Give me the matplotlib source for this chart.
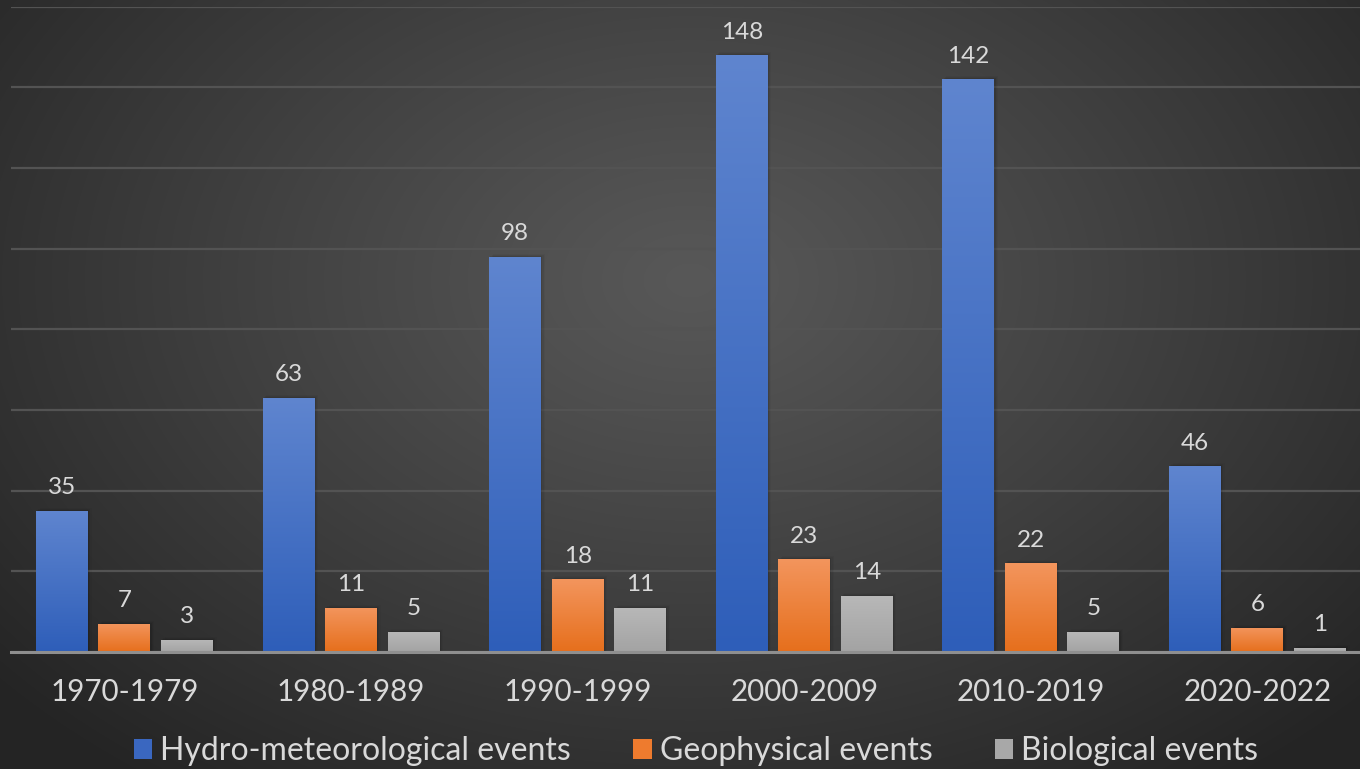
import numpy as np
import matplotlib
matplotlib.use("Agg")
import matplotlib.pyplot as plt
from matplotlib.colors import LinearSegmentedColormap
from matplotlib.patches import Patch

plt.rcParams['font.family'] = ['Lato', 'DejaVu Sans']

decades = ["1970-1979", "1980-1989", "1990-1999", "2000-2009", "2010-2019", "2020-2022"]
hydro = [35, 63, 98, 148, 142, 46]
geo = [7, 11, 18, 23, 22, 6]
bio = [3, 5, 11, 14, 5, 1]
series_names = ["Hydro-meteorological events", "Geophysical events", "Biological events"]

# top / bottom colours of each series' vertical gradient
grad_colors = [("#5f85cf", "#2e5eb9"), ("#f3955d", "#e66f1c"), ("#b8b8b8", "#a3a3a3")]
legend_colors = ["#3a67c0", "#ee7b2e", "#a8a8a8"]
text_color = "#d9d9d9"

W, H = 1360, 769
fig = plt.figure(figsize=(W / 100, H / 100), dpi=100)

# radial background
bg = fig.add_axes([0, 0, 1, 1], zorder=-10)
yy, xx = np.mgrid[0:H, 0:W]
r = np.sqrt(((xx - 690) / 900.0) ** 2 + ((yy - 280) / 620.0) ** 2)
r = np.clip(r, 0, 1)
val = 0.345 - 0.2 * r ** 1.1
bg.imshow(np.dstack([val, val, val]), extent=[0, W, H, 0], aspect='auto')
bg.set_xlim(0, W)
bg.set_ylim(H, 0)
bg.axis('off')

left_px, base_px, top_px = 11.2, 652, 6.6
group_px = 226.6
ax = fig.add_axes([left_px / W, 1 - base_px / H, (W - left_px) / W, (base_px - top_px) / H])
ax.patch.set_alpha(0)
ax.set_ylim(0, 160)
ax.set_xlim(-0.5, -0.5 + (W - left_px) / group_px)
ax.set_yticks(np.arange(0, 161, 20))
ax.yaxis.grid(True, color="#535353", linewidth=1.6)
ax.set_axisbelow(True)
for s in ["left", "right", "top"]:
    ax.spines[s].set_visible(False)
ax.spines["bottom"].set_color("#8f8f8f")
ax.spines["bottom"].set_linewidth(2.2)
ax.spines["bottom"].set_zorder(5)
ax.tick_params(axis='y', left=False, labelleft=False)
x = np.arange(len(decades))
ax.set_xticks(x)
ax.set_xticklabels(decades, fontsize=21.3, color=text_color)
ax.tick_params(axis='x', length=0, pad=19)

bw = 52 / group_px
step = 62.5 / group_px
for i, (vals, (ctop, cbot)) in enumerate(zip([hydro, geo, bio], grad_colors)):
    bars = ax.bar(x + (i - 1) * step, vals, width=bw, color=ctop, zorder=3, linewidth=0)
    cmap = LinearSegmentedColormap.from_list("g%d" % i, [cbot, ctop])
    for b, v in zip(bars, vals):
        x0, y0 = b.get_x(), b.get_y()
        x1, y1 = x0 + b.get_width(), y0 + b.get_height()
        # soft shadow behind the bar
        for k, a in enumerate([0.08, 0.05, 0.03]):
            dx = (2 + 2 * k) / group_px
            ax.add_patch(plt.Rectangle((x0 + dx * 0.6, y0), b.get_width(), b.get_height() + (1 + k) * 0.25,
                                       color="black", alpha=a, zorder=2, linewidth=0))
        grad = np.linspace(0, 1, 256).reshape(-1, 1)
        im = ax.imshow(grad, cmap=cmap, origin='lower', extent=[x0, x1, y0, y1],
                       aspect='auto', zorder=3.5)
        im.set_clip_path(b)
        ax.annotate(str(v), (b.get_x() + b.get_width() / 2, v), xytext=(0, 9),
                    textcoords='offset points', ha='center', va='bottom',
                    fontsize=17.5, color=text_color, zorder=6)

handles = [Patch(facecolor=c, edgecolor='none') for c in legend_colors]
leg = fig.legend(handles, series_names, loc='center', bbox_to_anchor=(0.5118, 1 - 751 / H),
                 ncol=3, frameon=False, fontsize=23.0, labelcolor=text_color,
                 handlelength=0.57, handleheight=0.57, handletextpad=0.25, columnspacing=1.96,
                 borderpad=0, borderaxespad=0)

fig.savefig("out.png", dpi=100)
